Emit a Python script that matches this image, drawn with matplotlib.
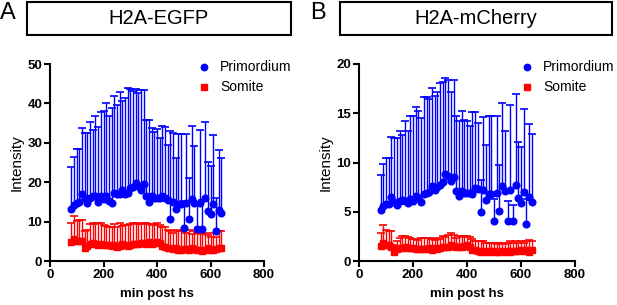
import numpy as np
import matplotlib
matplotlib.use('Agg')
import matplotlib.pyplot as plt
from matplotlib.patches import Rectangle

plt.rcParams['font.family'] = ['Liberation Sans', 'DejaVu Sans']

# time points (min post hs)
times = [80, 90, 100, 110, 120, 130, 140, 150, 160, 170, 180, 190, 200, 210, 220,
         230, 240, 250, 260, 270, 280, 290, 300, 310, 320, 330, 340, 350, 360, 370,
         380, 390, 400, 410, 420, 430, 440, 450, 460, 470, 480, 490, 500, 510, 520,
         530, 540, 550, 560, 570, 580, 590, 600, 610, 620, 630, 640]

# H2A-EGFP
egfp_prim_mean = [13.2, 14.2, 14.8, 15.1, 17.0, 16.1, 14.7, 16.1, 16.4, 16.4, 15.1, 16.4, 15.8, 16.6, 15.3,
                  14.8, 17.2, 17.0, 17.0, 18.1, 17.0, 17.2, 18.5, 18.9, 19.9, 19.1, 18.1, 19.6, 16.6, 15.1,
                  16.5, 15.9, 15.9, 15.9, 16.4, 15.9, 15.5, 10.7, 15.1, 13.2, 14.5, 14.5, 8.5, 14.7, 10.7,
                  15.8, 14.7, 8.1, 14.8, 8.1, 15.9, 12.8, 11.9, 14.4, 7.6, 13.0, 12.1]
egfp_prim_top = [23.8, 26.3, 28.5, 28.5, 33.7, 32.6, 32.6, 35.2, 33.3, 36.9, 34.0, 37.8, 38.0, 40.1, 36.7,
                 38.8, 41.9, 39.7, 42.9, 40.5, 41.4, 43.9, 43.6, 43.2, 43.6, 42.6, 43.5, 43.5, 35.8, 35.8,
                 33.7, 32.8, 33.6, 31.2, 34.3, 34.0, 29.5, 32.9, 32.6, 26.1, 32.3, 32.3, 15.3, 32.3, 21.0,
                 34.2, 29.1, 14.9, 33.3, 15.5, 35.3, 25.1, 24.0, 32.0, 15.9, 28.2, 26.1]
egfp_som_mean = [4.8, 5.5, 5.1, 5.2, 5.0, 3.2, 3.8, 4.3, 4.5, 4.2, 4.0, 4.2, 4.0, 4.1, 4.0,
                 3.8, 4.0, 3.6, 3.9, 4.2, 4.0, 3.8, 4.1, 4.3, 4.2, 4.4, 4.6, 4.5, 4.4, 4.8,
                 4.4, 4.6, 4.9, 4.6, 3.9, 3.6, 3.4, 3.3, 3.0, 3.2, 2.8, 2.9, 3.1, 3.0, 2.8,
                 3.2, 3.0, 2.7, 2.9, 2.6, 2.9, 3.2, 2.8, 2.9, 3.1, 3.4, 3.3]
egfp_som_top = [9.6, 11.5, 10.2, 10.3, 10.3, 7.5, 7.9, 9.4, 9.7, 9.4, 9.6, 9.6, 9.2, 9.0, 8.7,
                8.6, 9.4, 8.7, 9.6, 9.0, 9.2, 9.2, 9.4, 9.7, 9.6, 9.4, 9.4, 9.7, 9.6, 9.4,
                9.2, 9.3, 9.6, 9.2, 8.7, 8.6, 7.9, 7.5, 7.2, 7.9, 7.5, 7.5, 7.9, 7.2, 7.9,
                6.9, 7.5, 7.0, 7.2, 6.9, 7.2, 6.6, 6.2, 7.2, 6.2, 7.5, 7.5]

# H2A-mCherry
mch_prim_mean = [5.15, 5.6, 5.8, 5.8, 6.5, 6.0, 5.7, 6.1, 6.2, 6.1, 5.9, 6.3, 6.1, 6.6, 6.4,
                 6.0, 6.8, 6.9, 7.05, 7.6, 7.2, 7.5, 7.7, 8.0, 8.85, 8.65, 8.1, 8.5, 7.15, 6.6,
                 7.15, 6.9, 6.9, 6.9, 6.8, 7.45, 7.3, 5.0, 7.2, 6.2, 6.8, 6.8, 4.1, 6.9, 5.1,
                 7.6, 7.15, 4.1, 7.2, 4.1, 7.7, 6.4, 5.9, 7.05, 3.8, 6.5, 6.0]
mch_prim_top = [8.75, 9.8, 10.5, 10.5, 12.6, 12.5, 12.5, 13.2, 12.8, 14.2, 13.2, 14.7, 14.7, 15.6, 15.2,
                14.5, 16.6, 16.6, 16.4, 17.6, 16.8, 17.2, 18.1, 18.2, 18.6, 18.4, 17.2, 18.4, 14.7, 14.2,
                15.2, 14.3, 14.2, 13.7, 15.1, 15.1, 14.0, 8.2, 14.6, 11.8, 14.7, 14.7, 6.3, 14.7, 9.7,
                16.0, 13.2, 6.1, 15.8, 5.7, 17.0, 12.1, 11.6, 15.4, 6.3, 13.9, 12.9]
mch_som_mean = [1.55, 1.8, 1.6, 1.6, 1.45, 0.95, 1.2, 1.35, 1.3, 1.45, 1.3, 1.3, 1.35, 1.2, 1.25,
                1.2, 1.2, 1.2, 1.35, 1.1, 1.3, 1.2, 1.3, 1.45, 1.45, 1.45, 1.6, 1.5, 1.45, 1.4,
                1.45, 1.5, 1.6, 1.4, 1.1, 1.1, 1.0, 0.95, 1.05, 0.95, 1.0, 0.95, 1.05, 0.95, 0.95,
                1.0, 0.95, 1.0, 0.95, 1.05, 1.0, 1.0, 1.1, 1.0, 1.1, 0.95, 1.1]
mch_som_top = [2.8, 3.7, 3.1, 3.0, 3.0, 1.6, 2.05, 2.3, 2.5, 2.5, 2.4, 2.3, 2.2, 2.2, 2.15,
               2.3, 2.35, 2.3, 2.3, 2.2, 2.15, 2.3, 2.2, 2.5, 2.4, 2.65, 2.8, 2.65, 2.3, 2.5,
               2.4, 2.55, 2.55, 2.4, 2.2, 2.0, 2.0, 2.0, 2.05, 1.8, 1.85, 1.8, 1.85, 1.75, 1.8,
               1.85, 1.75, 1.85, 2.0, 1.85, 2.0, 1.85, 2.0, 1.85, 2.0, 2.15, 2.0]

BLUE = '#0000ff'
RED = '#ff0000'
W, H = 617, 305


def px(x0, y0, x1, y1):
    # pixel box -> figure fraction rect
    return [x0 / W, 1 - y1 / H, (x1 - x0) / W, (y1 - y0) / H]


def draw_series(ax, mean, top, color, marker):
    ax.vlines(times, mean, top, color=color, lw=1.0, zorder=2)
    ax.plot(times, top, ls='none', marker='_', ms=6, mew=1.2, color=color, zorder=2)
    ax.plot(times, mean, ls='none', marker=marker, ms=4.8, color=color, zorder=3)


def panel(fig, rect, ymax, ystep, data, title, letter, box, letter_x, legend_x):
    ax = fig.add_axes(rect)
    draw_series(ax, data[2], data[3], RED, 's')
    draw_series(ax, data[0], data[1], BLUE, 'o')
    ax.set_xlim(0, 800)
    ax.set_ylim(0, ymax)
    ax.set_xticks(range(0, 801, 200))
    ax.set_yticks(np.arange(0, ymax + 1, ystep))
    for s in ['top', 'right']:
        ax.spines[s].set_visible(False)
    for s in ['left', 'bottom']:
        ax.spines[s].set_linewidth(1.5)
    ax.tick_params(width=1.5, length=4, labelsize=9.5, pad=1.5)
    for lab in ax.get_xticklabels() + ax.get_yticklabels():
        lab.set_fontweight('bold')
    ax.set_xlabel('min post hs', fontsize=9.5, fontweight='bold', labelpad=5)
    ax.set_ylabel('Intensity', fontsize=11, labelpad=3)
    for art in ax.lines + ax.collections:
        art.set_clip_on(False)

    # title box
    bx0, by0, bx1, by1 = box
    fig.patches.append(Rectangle((bx0 / W, 1 - by1 / H), (bx1 - bx0) / W, (by1 - by0) / H,
                                 transform=fig.transFigure, fill=False, lw=1.5, ec='black'))
    fig.text((bx0 + bx1) / 2 / W, 1 - (by0 + by1) / 2 / H, title, ha='center', va='center',
             fontsize=14.5)
    fig.text(letter_x / W, 1 - 13 / H, letter, ha='left', va='center', fontsize=17)

    # legend
    fig.lines.append(plt.Line2D([legend_x / W], [1 - 67 / H], ls='none', marker='o', ms=4.6,
                                color=BLUE, transform=fig.transFigure))
    fig.lines.append(plt.Line2D([legend_x / W], [1 - 87 / H], ls='none', marker='s', ms=4.6,
                                color=RED, transform=fig.transFigure))
    fig.text((legend_x + 16) / W, 1 - 67 / H, 'Primordium', va='center', fontsize=10)
    fig.text((legend_x + 16) / W, 1 - 87 / H, 'Somite', va='center', fontsize=10)
    return ax


fig = plt.figure(figsize=(W / 100, H / 100), dpi=100)

panel(fig, px(50, 64, 264, 261), 50, 10,
      (egfp_prim_mean, egfp_prim_top, egfp_som_mean, egfp_som_top),
      'H2A-EGFP', 'A', (27, 2, 291, 35), 0, 204)
panel(fig, px(359, 64, 575, 261), 20, 5,
      (mch_prim_mean, mch_prim_top, mch_som_mean, mch_som_top),
      'H2A-mCherry', 'B', (340, 2, 612, 35), 310, 527)

fig.savefig('out.png', dpi=100)
